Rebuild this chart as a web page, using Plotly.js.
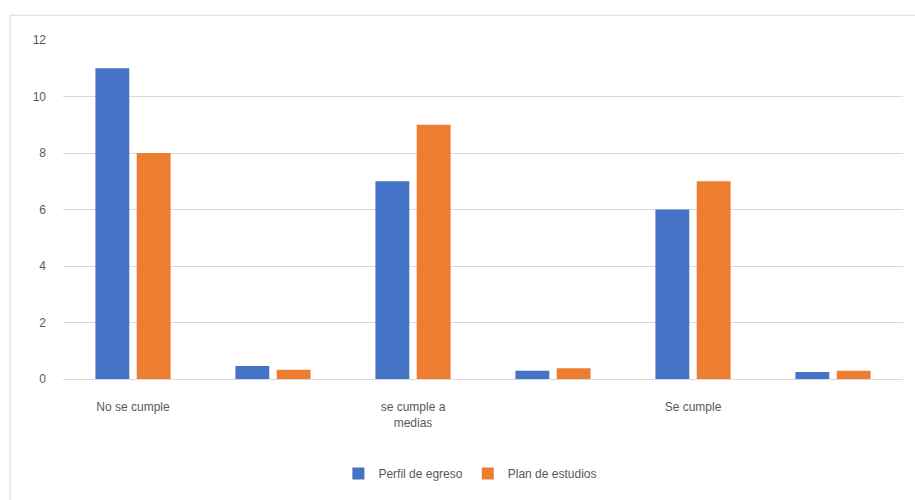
<!DOCTYPE html>
<html>
<head>
<meta charset="utf-8">
<script src="https://cdn.plot.ly/plotly-3.0.1.min.js"></script>
<style>
html,body{margin:0;padding:0;background:#fff;}
#chart{width:915px;height:500px;}
</style>
</head>
<body>
<div id="chart"></div>
<script>
var categories = ["No se cumple", " ", "se cumple a<br>medias", "  ", "Se cumple", "   "];
var seriesNames = ["Perfil de egreso", "Plan de estudios"];
var perfilDeEgreso = [11, 0.46, 7, 0.29, 6, 0.25];
var planDeEstudios = [8, 0.33, 9, 0.38, 7, 0.29];
var yTicks = [0, 2, 4, 6, 8, 10, 12];

var font = {family: "Liberation Sans, Arial, sans-serif", size: 12, color: "#595959"};

var traces = [
  {type: "bar", name: seriesNames[0], x: categories, y: perfilDeEgreso, marker: {color: "#4472C4"}},
  {type: "bar", name: seriesNames[1], x: categories, y: planDeEstudios, marker: {color: "#ED7D31"}}
];

var layout = {
  width: 915, height: 500,
  margin: {l: 63, r: 12, t: 40, b: 119},
  paper_bgcolor: "#fff", plot_bgcolor: "#fff",
  font: font,
  barmode: "group",
  bargap: 0.41,
  bargroupgap: 0.18,
  showlegend: true,
  legend: {orientation: "h", x: 0.485, xanchor: "center", y: -0.279, yanchor: "middle", font: font, itemwidth: 30, tracegroupgap: 0},
  xaxis: {type: "category", showgrid: false, zeroline: false, showline: true, linecolor: "#d9d9d9", linewidth: 1, ticks: "", tickfont: font, ticklabelstandoff: 17, fixedrange: true},
  yaxis: {range: [0, 12], tickvals: yTicks, showgrid: true, gridcolor: "#d9d9d9", gridwidth: 1, zeroline: false, showline: false, ticks: "", tickfont: font, ticklabelstandoff: 16, fixedrange: true},
  shapes: [{type: "rect", xref: "paper", yref: "paper", x0: -0.0631, x1: 1.03, y0: -0.37, y1: 1.073, line: {color: "#d9d9d9", width: 1}}]
};

Plotly.newPlot("chart", traces, layout, {displayModeBar: false, staticPlot: true});
</script>
</body>
</html>
